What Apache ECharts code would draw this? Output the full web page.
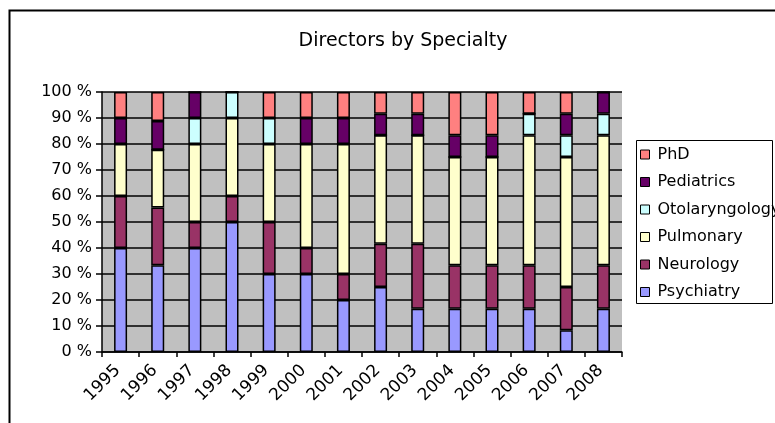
<!DOCTYPE html>
<html>
<head>
<meta charset="utf-8">
<title>Directors by Specialty</title>
<script src="https://cdn.jsdelivr.net/npm/echarts@6/dist/echarts.min.js"></script>
<style>
  html, body { margin: 0; padding: 0; background: #fff; }
  #chart { width: 775px; height: 423px; }
</style>
</head>
<body>
<div id="chart"></div>
<script>
// Number of directors per specialty, by year
const years = ['1995','1996','1997','1998','1999','2000','2001','2002','2003','2004','2005','2006','2007','2008'];
const psychiatry     = [4, 3, 4, 5, 3, 3, 2, 3, 2, 2, 2, 2, 1, 2];
const neurology      = [2, 2, 1, 1, 2, 1, 1, 2, 3, 2, 2, 2, 2, 2];
const pulmonary      = [2, 2, 3, 3, 3, 4, 5, 5, 5, 5, 5, 6, 6, 6];
const otolaryngology = [0, 0, 1, 1, 1, 0, 0, 0, 0, 0, 0, 1, 1, 1];
const pediatrics     = [1, 1, 1, 0, 0, 1, 1, 1, 1, 1, 1, 0, 1, 1];
const phd            = [1, 1, 0, 0, 1, 1, 1, 1, 1, 2, 2, 1, 1, 0];
const yTickLabels = ['0 %','10 %','20 %','30 %','40 %','50 %','60 %','70 %','80 %','90 %','100 %'];

const FONT = '"DejaVu Sans", Verdana, sans-serif';

// Stacking order bottom to top, with the classic spreadsheet palette
const specialties = [
  { name: 'Psychiatry',     values: psychiatry,     color: '#9999FF' },
  { name: 'Neurology',      values: neurology,      color: '#993366' },
  { name: 'Pulmonary',      values: pulmonary,      color: '#FFFFCC' },
  { name: 'Otolaryngology', values: otolaryngology, color: '#CCFFFF' },
  { name: 'Pediatrics',     values: pediatrics,     color: '#660066' },
  { name: 'PhD',            values: phd,            color: '#FF8080' }
];

// Totals per year, used to express each count as a share of 100 %
const totals = years.map((_, i) => specialties.reduce((s, sp) => s + sp.values[i], 0));

const series = specialties.map(sp => ({
  name: sp.name,
  type: 'bar',
  stack: 'all',
  barWidth: 13,
  data: sp.values.map((v, i) => v / totals[i] * 100),
  itemStyle: { color: sp.color, borderColor: '#000', borderWidth: 1.5 }
}));

const chart = echarts.init(document.getElementById('chart'), null, { renderer: 'canvas' });
chart.setOption({
  animation: false,
  backgroundColor: '#fff',
  title: {
    text: 'Directors by Specialty',
    left: 398, top: 27, textAlign: 'center',
    textStyle: { fontFamily: FONT, fontSize: 19, fontWeight: 'normal', color: '#000' }
  },
  grid: {
    left: 102, right: 153, top: 92, bottom: 71,
    show: true, backgroundColor: '#C0C0C0', borderWidth: 0
  },
  legend: {
    orient: 'vertical',
    left: 640, top: 146,
    padding: 0,
    itemWidth: 9, itemHeight: 9,
    itemGap: 10.5,
    icon: 'rect',
    data: ['PhD', 'Pediatrics', 'Otolaryngology', 'Pulmonary', 'Neurology', 'Psychiatry'],
    itemStyle: { borderColor: '#000', borderWidth: 1 },
    textStyle: { fontFamily: FONT, fontSize: 16, lineHeight: 17, color: '#000', padding: [0, 0, 0, 3] }
  },
  xAxis: {
    type: 'category',
    data: years,
    boundaryGap: true,
    axisLine: { lineStyle: { color: '#000', width: 1.5 } },
    axisTick: { show: true, length: 5, lineStyle: { color: '#000', width: 1.5 } },
    axisLabel: { rotate: 45, margin: 13, fontFamily: FONT, fontSize: 17, color: '#000', interval: 0,
                 padding: [0, 4, 0, 0] },
    splitLine: { show: false }
  },
  yAxis: {
    type: 'value',
    min: 0, max: 100, interval: 10,
    axisLine: { show: true, lineStyle: { color: '#000', width: 1.5 } },
    axisTick: { show: true, length: 6, lineStyle: { color: '#000', width: 1.5 } },
    axisLabel: {
      margin: 10, fontFamily: FONT, fontSize: 16, color: '#000',
      formatter: v => yTickLabels[Math.round(v / 10)]
    },
    splitLine: { show: true, lineStyle: { color: '#000', width: 1.5 } }
  },
  graphic: [
    // chart frame
    { type: 'rect', left: 7, top: 8, z: 100, silent: true,
      shape: { x: 0, y: 0, width: 800, height: 500 },
      style: { fill: null, stroke: '#000', lineWidth: 2 } },
    // legend box
    { type: 'rect', z: 100, silent: true,
      shape: { x: 636.5, y: 140.5, width: 136, height: 163 },
      style: { fill: null, stroke: '#000', lineWidth: 1 } }
  ],
  series: series
});
</script>
</body>
</html>
